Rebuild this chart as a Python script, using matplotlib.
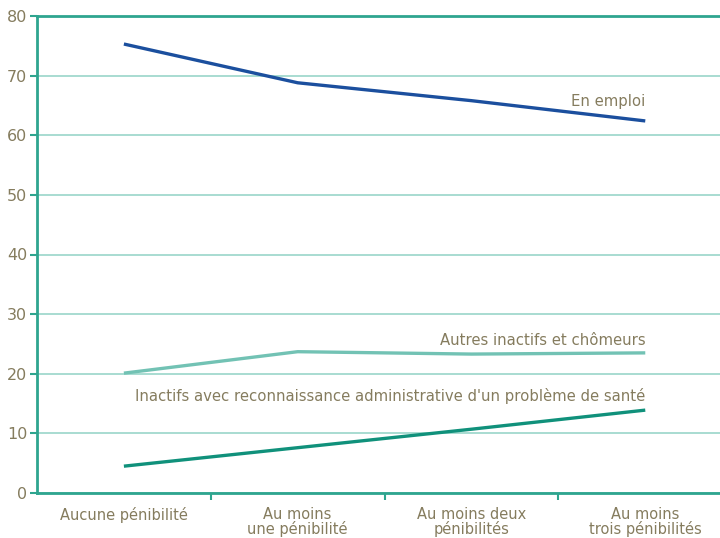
import numpy as np
import matplotlib.pyplot as plt

# Catégories et séries
categories = ['Aucune pénibilité', 'Au moins\nune pénibilité',
              'Au moins deux\npénibilités', 'Au moins\ntrois pénibilités']
en_emploi = [75.3, 68.8, 65.8, 62.4]
autres_inactifs = [20.1, 23.7, 23.3, 23.5]
inactifs_sante = [4.5, 7.6, 10.7, 13.9]

teal = '#2ea58f'
grid_col = '#9ad5ca'
txt_col = '#857c5e'

fig = plt.figure(figsize=(7.2, 5.38), dpi=100)
ax = fig.add_axes([37 / 720, 1 - 493 / 538, 683 / 720, 477 / 538])

x = np.arange(len(categories))
ax.plot(x, en_emploi, color='#1b4f9e', lw=2.4, solid_capstyle='butt')
ax.plot(x, autres_inactifs, color='#72c2b4', lw=2.4, solid_capstyle='butt')
ax.plot(x, inactifs_sante, color='#10917b', lw=2.4, solid_capstyle='butt')

ax.set_xlim(-0.5, 3.43)
ax.set_ylim(0, 80)
ax.set_yticks(range(0, 81, 10))
ax.set_xticks(x)
ax.set_xticklabels(categories, color=txt_col, fontsize=10.5, linespacing=0.95)
ax.set_xticks(x[:-1] + 0.5, minor=True)
ax.tick_params(axis='x', which='major', length=0, pad=10)
ax.tick_params(axis='x', which='minor', length=5, width=1.5, color=teal)
ax.tick_params(axis='y', length=5, width=1.5, color=teal, labelcolor=txt_col,
               labelsize=11.5, pad=2)

ax.grid(axis='y', color=grid_col, lw=1.2)
ax.set_axisbelow(True)
for s in ['top', 'right']:
    ax.spines[s].set_visible(False)
ax.spines['left'].set_color(teal)
ax.spines['left'].set_linewidth(2)
ax.spines['bottom'].set_color(teal)
ax.spines['bottom'].set_linewidth(2)
ax.axhline(80, color=teal, lw=2, clip_on=False)

ax.text(3.0, 65.6, 'En emploi', ha='right', va='center', color=txt_col, fontsize=10.7)
ax.text(3.0, 25.6, 'Autres inactifs et chômeurs', ha='right', va='center',
        color=txt_col, fontsize=10.7)
ax.text(3.0, 16.2, "Inactifs avec reconnaissance administrative d'un problème de santé",
        ha='right', va='center', color=txt_col, fontsize=10.7)

plt.savefig('out.png', dpi=100)
